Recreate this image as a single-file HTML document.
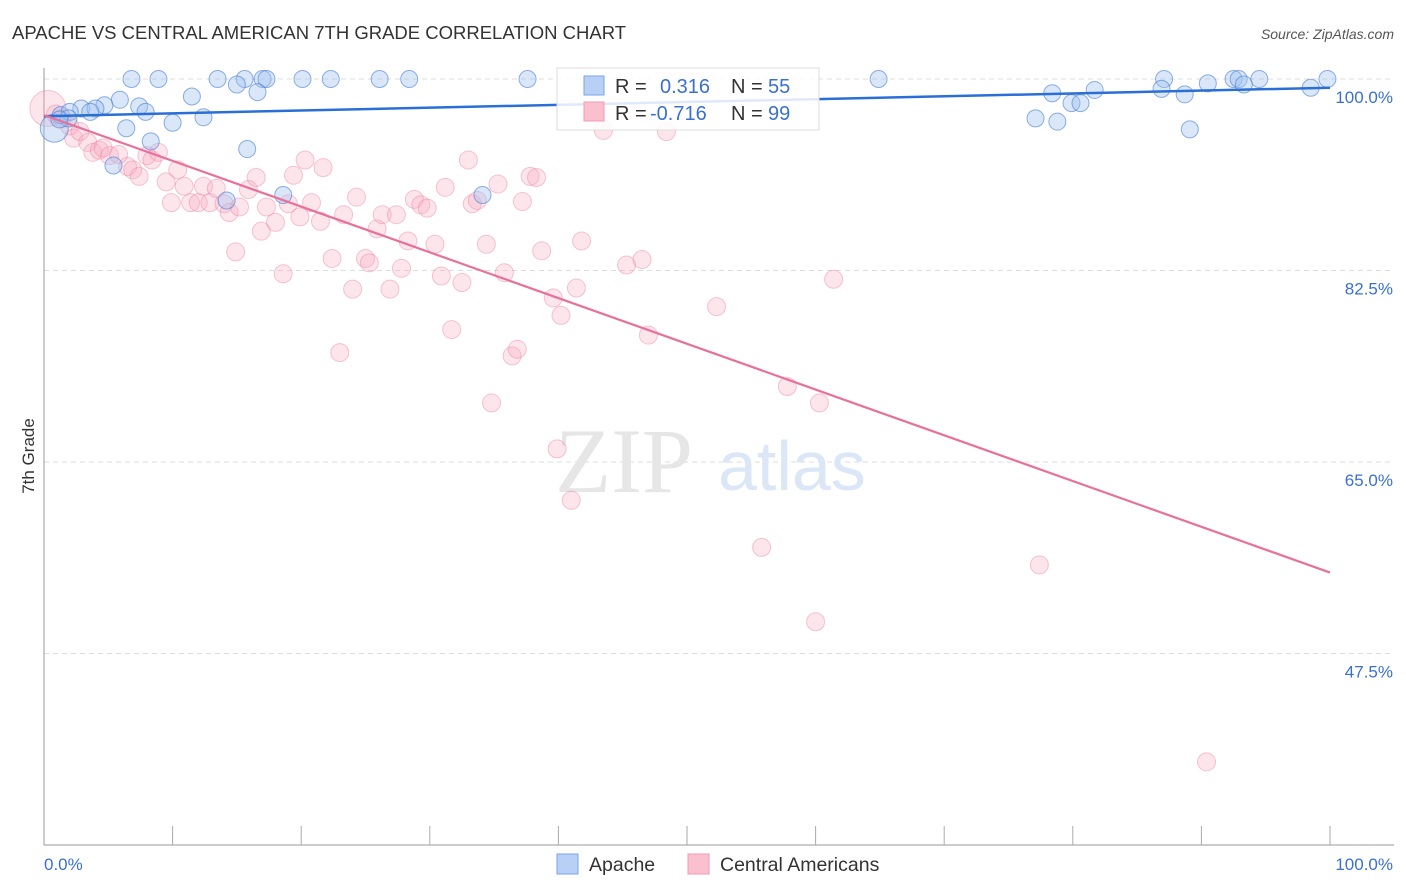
<!DOCTYPE html>
<html><head><meta charset="utf-8"><style>
body{margin:0;background:#fff;font-family:"Liberation Sans",sans-serif}
#c{position:absolute;left:0;top:0}
</style></head><body>
<svg id="c" width="1406" height="892">
<text x="12" y="39" font-size="18.5" fill="#333">APACHE VS CENTRAL AMERICAN 7TH GRADE CORRELATION CHART</text>
<text x="1394" y="39" font-size="14" fill="#555" font-style="italic" text-anchor="end">Source: ZipAtlas.com</text>
<g id="grid"></g>
<text x="555" y="492" font-size="92" fill="#e6e6e6" font-family="Liberation Serif,serif">ZIP</text>
<text x="718" y="490" font-size="70" fill="#dbe7f6">atlas</text>
<g id="axes"></g>
<g id="pts"></g>
<g id="lines"></g>
<text x="34" y="456" font-size="17" fill="#333" transform="rotate(-90 34 456)" text-anchor="middle">7th Grade</text>
<g>
<rect x="557" y="68" width="262" height="62" fill="rgba(255,255,255,0.85)" stroke="#ddd"/>
<rect x="584" y="76" width="20" height="19" fill="#b8d0f5" stroke="#7aa6e8"/>
<rect x="584" y="102" width="20" height="19" fill="#fbc0d0" stroke="#f29ab4"/>
<text x="615" y="93" font-size="20" fill="#333">R =</text><text x="660" y="93" font-size="20" fill="#3a70d0">0.316</text>
<text x="731" y="93" font-size="20" fill="#333">N =</text><text x="768" y="93" font-size="20" fill="#3a70d0">55</text>
<text x="615" y="120" font-size="20" fill="#333">R =</text><text x="650" y="120" font-size="20" fill="#3a70d0">-0.716</text>
<text x="731" y="120" font-size="20" fill="#333">N =</text><text x="768" y="120" font-size="20" fill="#3a70d0">99</text>
</g>
<g>
<rect x="557" y="854" width="21" height="20" fill="#b8d0f5" stroke="#7aa6e8"/>
<text x="589" y="871" font-size="19.5" fill="#333">Apache</text>
<rect x="688" y="854" width="21" height="20" fill="#fbc0d0" stroke="#f29ab4"/>
<text x="720" y="871" font-size="19.5" fill="#333">Central Americans</text>
</g>
</svg>
<script>
const yTicks=[100,82.5,65,47.5];
const yTickLabels=["100.0%","82.5%","65.0%","47.5%"];
const xLabels=["0.0%","100.0%"];
const apacheX=[0.8,6.8,8.9,13.5,15.6,17.0,17.3,20.1,22.3,26.1,28.4,37.6,64.9,87.1,92.5,92.9,94.5,99.8,90.5,93.3,15.0,16.6,11.5,5.9,7.4,4.7,2.9,4.0,3.6,1.3,2.0,7.9,12.4,10.0,6.4,8.3,15.8,5.4,18.6,34.1,14.2,78.4,81.7,86.9,88.7,79.9,80.6,98.5,77.1,78.8,89.1,1.9,1.2];
const apacheY=[95.5,100,100,100,100,100,100,100,100,100,100,100,100,100,100,100,100,100,99.6,99.5,99.5,98.8,98.4,98.1,97.5,97.6,97.3,97.3,97.0,96.7,97.0,97.0,96.5,96.0,95.5,94.3,93.6,92.1,89.4,89.4,88.9,98.7,99.0,99.1,98.6,97.8,97.8,99.2,96.4,96.1,95.4,96.4,96.3];
const centralX=[0.3,0.9,1.4,2.0,2.3,2.8,3.4,3.8,4.3,4.6,5.1,5.8,6.5,6.9,7.4,8.0,8.4,8.9,9.5,9.9,10.4,10.9,11.4,12.0,12.4,12.9,13.4,14.0,14.4,14.9,15.2,15.9,16.5,16.9,17.3,18.0,18.6,19.0,19.4,19.9,20.3,20.8,21.5,21.7,22.4,23.0,23.3,24.0,24.3,25.0,25.3,25.9,26.3,26.9,27.4,27.8,28.3,28.8,29.3,29.8,30.4,30.9,31.2,31.7,32.5,33.0,33.3,33.7,34.4,34.8,35.3,35.8,36.4,36.8,37.2,37.8,38.3,38.7,39.6,39.9,40.2,41.0,41.4,41.8,43.5,45.3,46.5,47.0,48.4,52.3,55.8,57.8,60.0,60.3,61.4,77.4,90.4];
const centralY=[97.3,96.8,96.4,95.7,94.6,95.2,94.2,93.3,93.5,93.7,93.0,93.1,92.0,91.7,91.1,93.0,92.6,93.3,90.6,88.7,91.7,90.2,88.7,88.7,90.2,88.7,90.0,88.6,87.8,84.2,88.3,89.9,91.0,86.1,88.3,86.9,82.2,88.6,91.2,87.4,92.6,88.7,87.0,91.9,83.6,75.0,87.6,80.8,89.2,83.6,83.2,86.3,87.6,80.8,87.6,82.7,85.2,89.0,88.5,88.2,84.9,82.0,90.1,77.1,81.4,92.6,88.6,88.9,84.9,70.4,90.4,82.3,74.7,75.3,88.8,91.1,91.0,84.3,80.0,66.2,78.4,61.5,80.9,85.2,95.3,83.0,83.5,76.6,95.2,79.2,57.2,71.9,50.4,70.4,81.7,55.6,37.6];
const apacheTrend=[96.6,99.2];
const centralTrend=[96.7,54.9];
const NS='http://www.w3.org/2000/svg';
const X=v=>44+v*12.86, Y=v=>79+(100-v)*10.943;
function mk(t,a,p){const e=document.createElementNS(NS,t);for(const k in a)e.setAttribute(k,a[k]);p.appendChild(e);return e;}
const grid=document.getElementById('grid'),axes=document.getElementById('axes'),pts=document.getElementById('pts'),lines=document.getElementById('lines');
yTicks.forEach((t,i)=>{
 const l=mk('line',{x1:44,x2:1394,y1:Y(t),y2:Y(t),stroke:'#ddd','stroke-dasharray':'5,4'},grid);
 
 
 const tx=mk('text',{x:1393,y:Y(t)+24,'font-size':17,fill:'#3a70d0','text-anchor':'end'},axes);
 tx.textContent=yTickLabels[i];
 
 
});
mk('line',{x1:44,x2:44,y1:68,y2:845,stroke:'#999'},axes);
mk('line',{x1:44,x2:1394,y1:845,y2:845,stroke:'#999'},axes);
for(let i=1;i<=10;i++){const t=mk('line',{x1:X(i*10),x2:X(i*10),y1:826,y2:845,stroke:'#aaa'},axes);
 
 }
const xl0=mk('text',{x:44,y:870,'font-size':17,fill:'#3a70d0'},axes);xl0.textContent=xLabels[0];


const xl1=mk('text',{x:1393,y:870,'font-size':17,fill:'#3a70d0','text-anchor':'end'},axes);xl1.textContent=xLabels[1];


centralX.forEach((v,i)=>{const c=mk('circle',{cx:X(v),cy:Y(centralY[i]),r:i==0?18:9,fill:'rgba(248,170,192,0.3)',stroke:'rgba(235,130,160,0.45)','stroke-width':1},pts);
 
 });
apacheX.forEach((v,i)=>{const c=mk('circle',{cx:X(v),cy:Y(apacheY[i]),r:i==0?14:8.5,fill:'rgba(160,195,240,0.4)',stroke:'rgba(70,125,210,0.6)','stroke-width':1},pts);
 
 });
const l1=mk('line',{x1:X(0),y1:Y(apacheTrend[0]),x2:X(100),y2:Y(apacheTrend[1]),stroke:'#2a6fd6','stroke-width':2.5},lines);


const l2=mk('line',{x1:X(0),y1:Y(centralTrend[0]),x2:X(100),y2:Y(centralTrend[1]),stroke:'#e8709a','stroke-width':2.2},lines);


</script>
</body></html>
